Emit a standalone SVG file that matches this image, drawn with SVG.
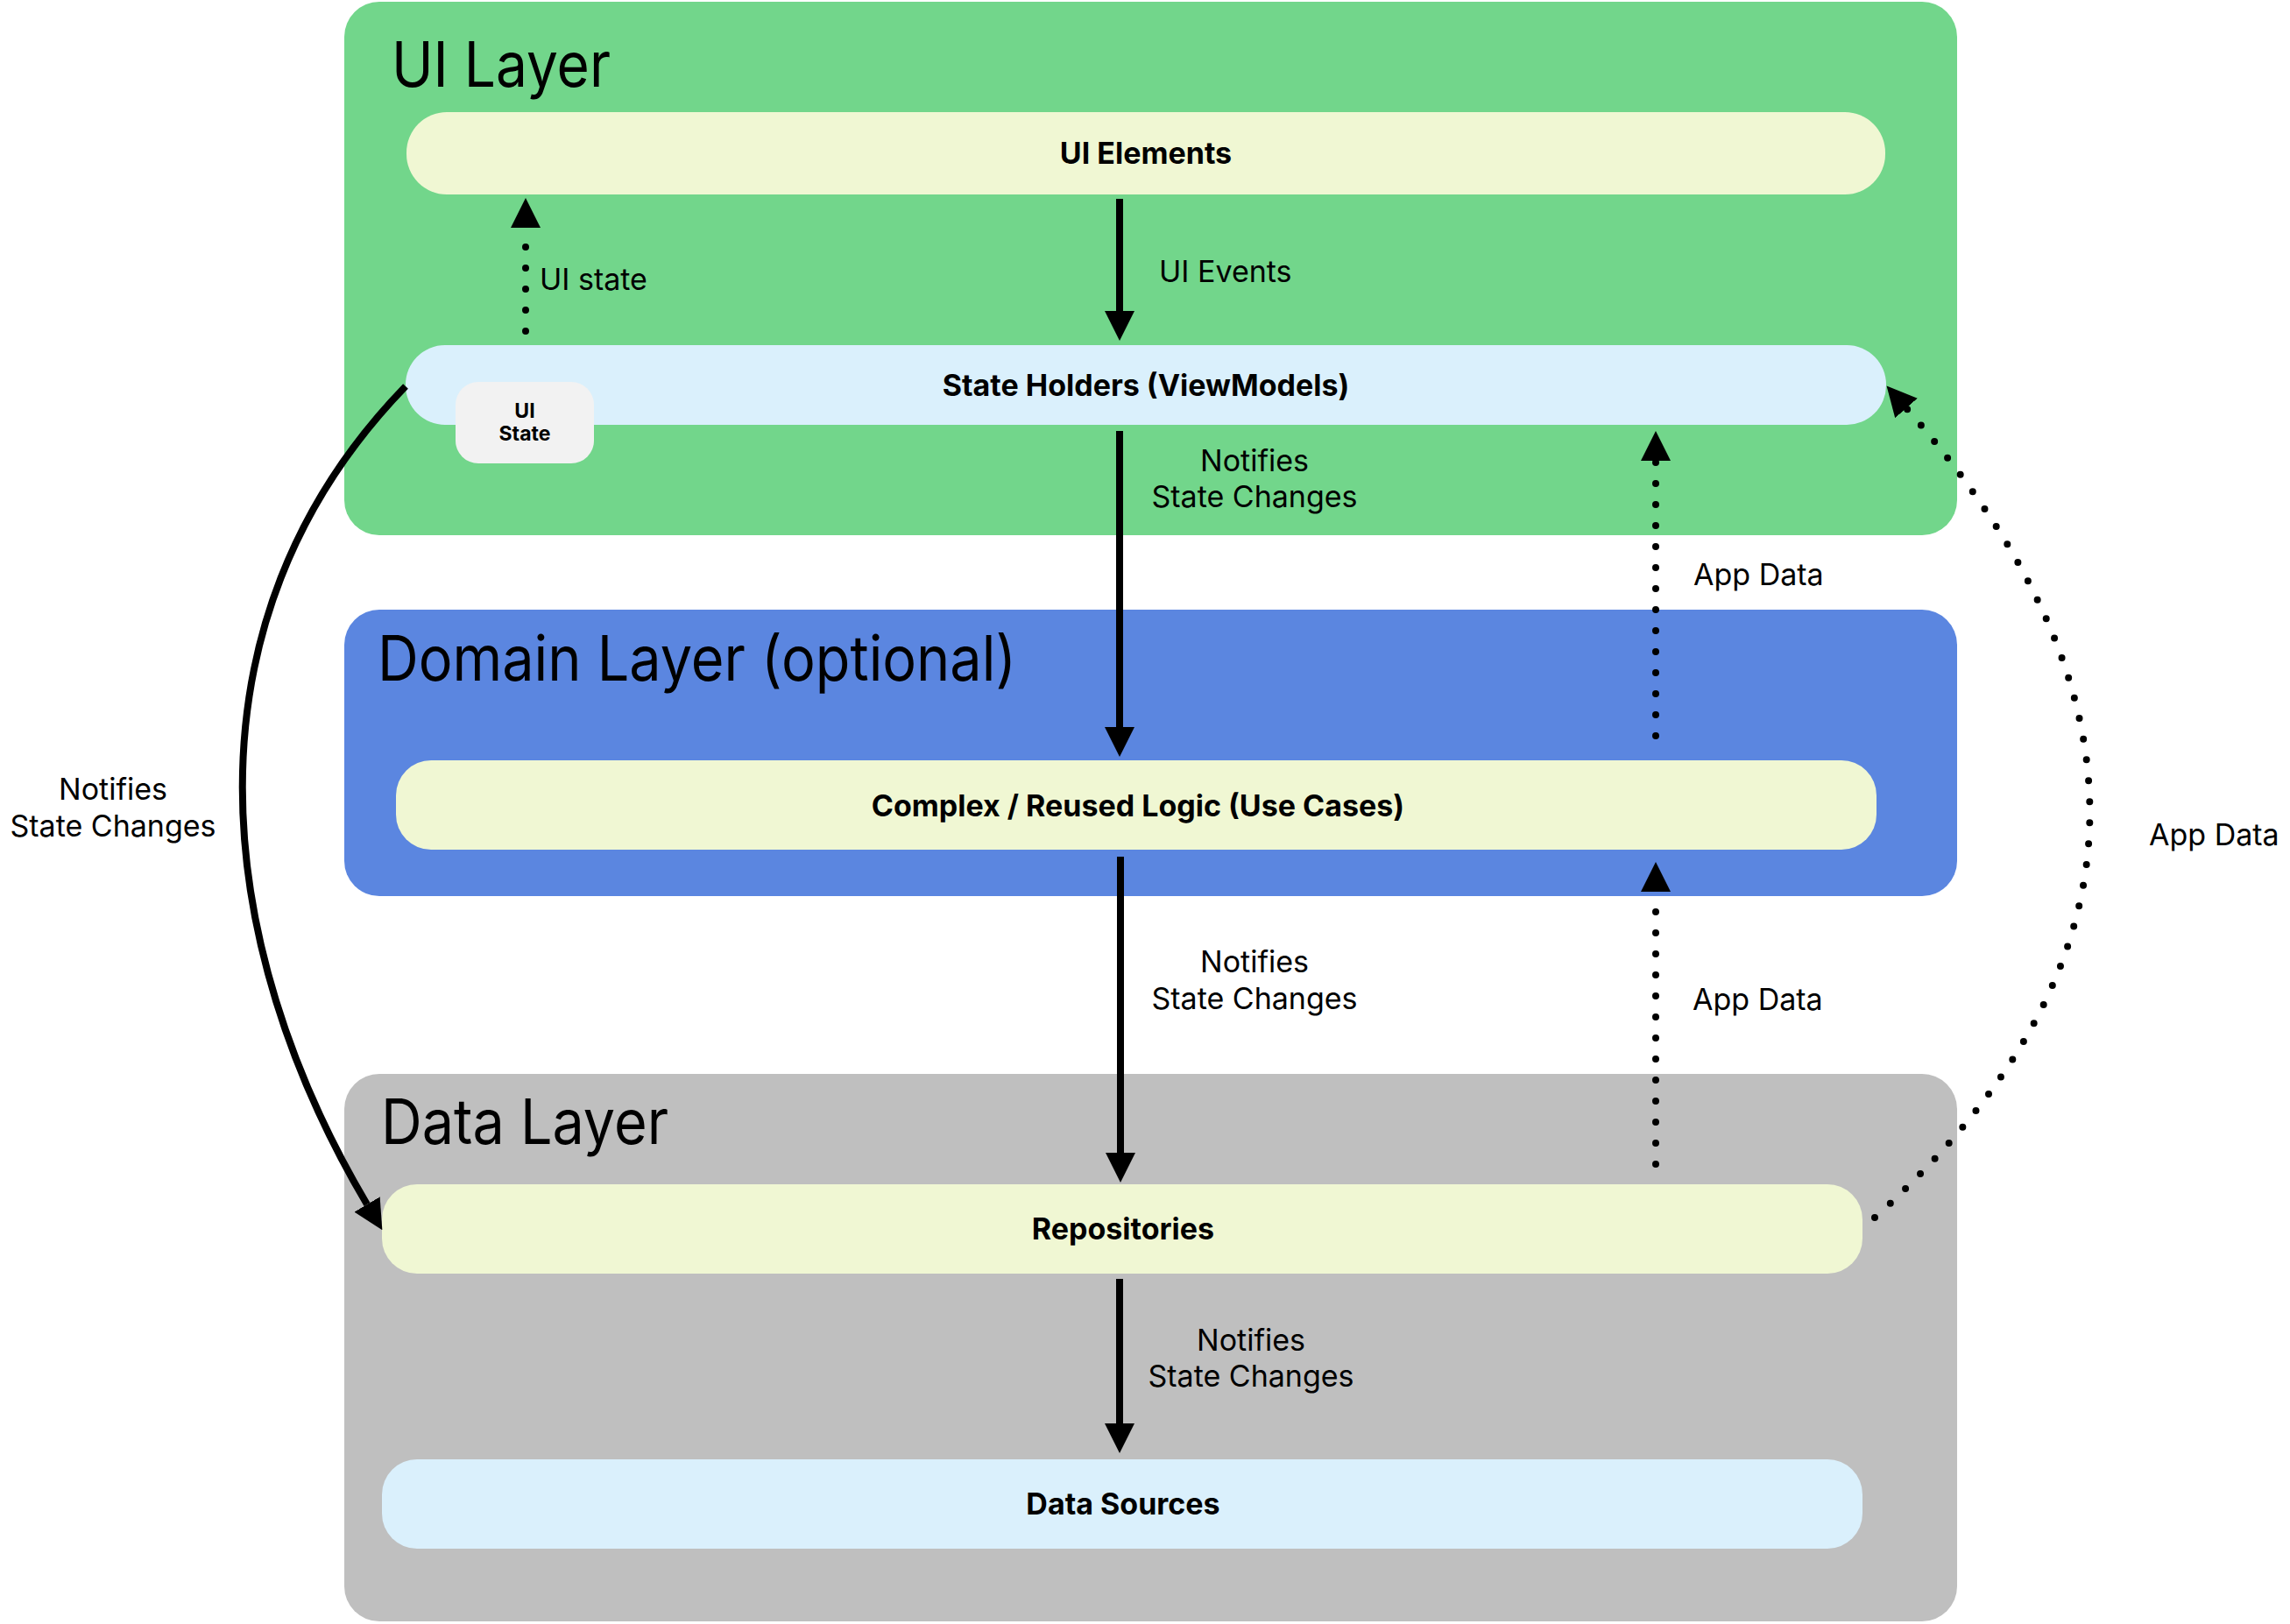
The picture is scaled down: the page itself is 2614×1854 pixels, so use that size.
<svg xmlns="http://www.w3.org/2000/svg" width="2614" height="1854" viewBox="0 0 2614 1854">
<style>
.t{font-family:Inter,"Noto Sans","Liberation Sans",sans-serif;fill:#000}
.title{font-size:71px}
.lbl{font-size:34px}
.bold{font-size:34px;font-weight:700}
.mid{text-anchor:middle}
.solid{fill:none;stroke:#000;stroke-width:8}
.dot{fill:none;stroke:#000;stroke-width:8;stroke-linecap:round;stroke-dasharray:0 24}
</style>
<defs>
<marker id="ah" markerUnits="userSpaceOnUse" markerWidth="34" markerHeight="34" viewBox="0 0 33 33" refX="0" refY="16.5" orient="auto">
<path d="M0,0 L33,16.5 L0,33 z" fill="#000"/>
</marker>
</defs>
<rect width="2614" height="1854" fill="#fff"/>
<g id="ui-layer">
<rect x="393" y="2" width="1841" height="609" rx="40" fill="#72D68B"/>
<text class="t title" x="447" y="99" textLength="250" lengthAdjust="spacingAndGlyphs">UI Layer</text>
</g>
<g id="domain-layer">
<rect x="393" y="696" width="1841" height="327" rx="40" fill="#5B86E0"/>
<text class="t title" x="431" y="777" textLength="729" lengthAdjust="spacingAndGlyphs">Domain Layer (optional)</text>
</g>
<g id="data-layer">
<rect x="393" y="1226" width="1841" height="625" rx="40" fill="#BFBFBF"/>
<text class="t title" x="435" y="1306" textLength="328" lengthAdjust="spacingAndGlyphs">Data Layer</text>
</g>
<g id="ui-elements">
<rect x="464" y="128" width="1688" height="94" rx="46" fill="#F0F7D3"/>
<text class="t bold mid" x="1308" y="187">UI Elements</text>
</g>
<g id="state-holders">
<rect x="463" y="394" width="1690" height="91" rx="45" fill="#DAF0FC"/>
<text class="t bold mid" x="1308" y="452">State Holders (ViewModels)</text>
</g>
<g id="ui-state">
<rect x="520" y="436" width="158" height="93" rx="26" fill="#F2F2F2"/>
<text class="t mid" x="599" y="477" font-size="23" font-weight="700">UI</text>
<text class="t mid" x="599" y="503" font-size="23" font-weight="700">State</text>
</g>
<g id="use-cases">
<rect x="452" y="868" width="1690" height="102" rx="40" fill="#F0F7D3"/>
<text class="t bold mid" x="1299" y="932">Complex / Reused Logic (Use Cases)</text>
</g>
<g id="repositories">
<rect x="436" y="1352" width="1690" height="102" rx="40" fill="#F0F7D3"/>
<text class="t bold mid" x="1282" y="1415">Repositories</text>
</g>
<g id="data-sources">
<rect x="436" y="1666" width="1690" height="102" rx="40" fill="#DAF0FC"/>
<text class="t bold mid" x="1282" y="1729">Data Sources</text>
</g>
<g id="connectors">
<path class="solid" d="M1278 227 L1278 355" marker-end="url(#ah)"/>
<path class="dot" d="M600 378 L600 260" marker-end="url(#ah)"/>
<path class="solid" d="M1278 492 L1278 830" marker-end="url(#ah)"/>
<path class="dot" d="M1890 840 L1890 526" marker-end="url(#ah)"/>
<path class="solid" d="M1279 978 L1279 1316" marker-end="url(#ah)"/>
<path class="dot" d="M1890 1329 L1890 1018" marker-end="url(#ah)"/>
<path class="solid" d="M1278 1460 L1278 1625" marker-end="url(#ah)"/>
<path class="solid" d="M463 441 C200 712 244 1080 419 1375" marker-end="url(#ah)"/>
<path class="dot" d="M2140 1390 C2461 1101 2461 790 2176 466" marker-end="url(#ah)"/>
<text class="t lbl" x="1323" y="322">UI Events</text>
<text class="t lbl" x="616" y="331">UI state</text>
<text class="t lbl mid" x="1432" y="538">Notifies</text>
<text class="t lbl mid" x="1432" y="579">State Changes</text>
<text class="t lbl" x="1933" y="668">App Data</text>
<text class="t lbl mid" x="1432" y="1110">Notifies</text>
<text class="t lbl mid" x="1432" y="1152">State Changes</text>
<text class="t lbl" x="1932" y="1153">App Data</text>
<text class="t lbl mid" x="1428" y="1542">Notifies</text>
<text class="t lbl mid" x="1428" y="1583">State Changes</text>
<text class="t lbl mid" x="129" y="913">Notifies</text>
<text class="t lbl mid" x="129" y="955">State Changes</text>
<text class="t lbl" x="2453" y="965">App Data</text>
</g>
</svg>
